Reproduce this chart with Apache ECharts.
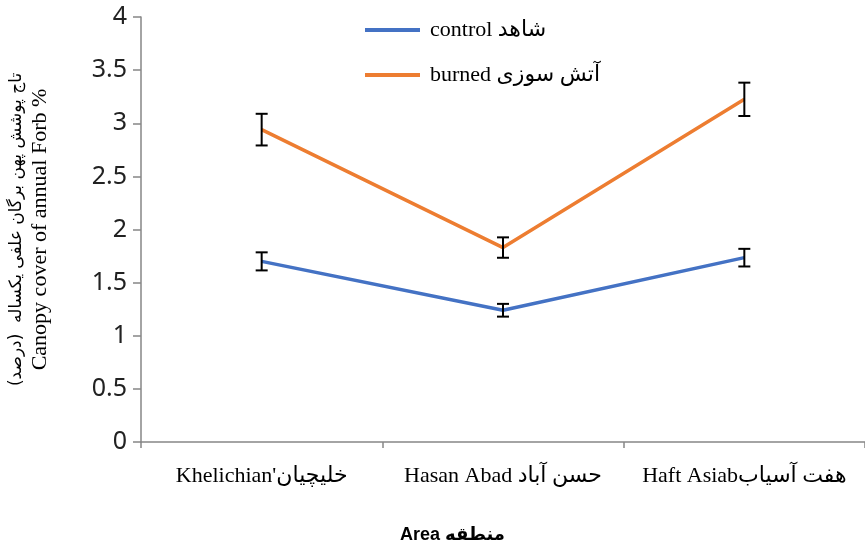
<!DOCTYPE html>
<html>
<head>
<meta charset="utf-8">
<script src="https://cdn.jsdelivr.net/npm/echarts@6/dist/echarts.min.js"></script>
<style>
html,body{margin:0;padding:0;background:#fff;}
#chart{width:865px;height:554px;}
</style>
</head>
<body>
<div id="chart"></div>
<script>
var categories = ["Khelichian'خلیچیان", "Hasan Abad حسن آباد", "Haft Asiabهفت آسیاب"];
var controlMean = [1.70, 1.24, 1.735];
var controlErr = [0.085, 0.06, 0.083];
var burnedMean = [2.94, 1.83, 3.225];
var burnedErr = [0.149, 0.096, 0.157];
var yTicks = [0, 0.5, 1, 1.5, 2, 2.5, 3, 3.5, 4];
var controlName = 'control شاهد';
var burnedName = 'burned آتش سوزی';
var xTitle = 'Area منطقه';

var serif = "'Liberation Serif', 'DejaVu Serif', 'DejaVu Sans', serif";

function errData(mean, err) {
  return mean.map(function (m, i) { return [i, m - err[i], m + err[i]]; });
}

function renderErr(params, api) {
  var x = api.value(0);
  var lo = api.coord([x, api.value(1)]);
  var hi = api.coord([x, api.value(2)]);
  var w = 6;
  var style = { stroke: '#000', lineWidth: 2 };
  return {
    type: 'group',
    children: [
      { type: 'line', shape: { x1: lo[0], y1: lo[1], x2: hi[0], y2: hi[1] }, style: style },
      { type: 'line', shape: { x1: lo[0] - w, y1: lo[1], x2: lo[0] + w, y2: lo[1] }, style: style },
      { type: 'line', shape: { x1: hi[0] - w, y1: hi[1], x2: hi[0] + w, y2: hi[1] }, style: style }
    ]
  };
}

var chart = echarts.init(document.getElementById('chart'), null, { renderer: 'canvas' });
chart.setOption({
  animation: false,
  backgroundColor: '#fff',
  grid: { left: 141, right: -5, top: 17, bottom: 112, containLabel: false },
  legend: {
    orient: 'vertical',
    left: 360,
    top: 13,
    itemGap: 21,
    itemWidth: 55,
    itemHeight: 4,
    data: [{ name: controlName, icon: 'rect' }, { name: burnedName, icon: 'rect' }],
    textStyle: { fontFamily: serif, fontSize: 22, color: '#000', lineHeight: 24, padding: [0, 0, 0, 5] }
  },
  graphic: [{
    type: 'text',
    left: 400,
    top: 526,
    style: { text: xTitle, font: "bold 18px 'Liberation Sans', 'DejaVu Sans', sans-serif", fill: '#000' }
  }],
  xAxis: {
    type: 'category',
    data: categories,
    boundaryGap: true,
    axisLine: { lineStyle: { color: '#868686', width: 1.5 } },
    axisTick: { show: true, interval: 0, length: 6, lineStyle: { color: '#868686', width: 1.5 } },
    axisLabel: { interval: 0, fontFamily: serif, fontSize: 22, color: '#000', margin: 23 }
  },
  yAxis: {
    type: 'value',
    min: yTicks[0],
    max: yTicks[yTicks.length - 1],
    interval: 0.5,
    splitLine: { show: false },
    axisLine: { show: true, lineStyle: { color: '#868686', width: 1.5 } },
    axisTick: { show: true, length: 8, lineStyle: { color: '#868686', width: 1.5 } },
    axisLabel: { fontFamily: "'Noto Sans', 'Open Sans', sans-serif", fontSize: 25, color: '#222', margin: 14 },
    name: '{p|تاج پوشش پهن برگان علفی یکساله  (درصد)}\n{e|Canopy cover of annual Forb %}',
    nameLocation: 'middle',
    nameGap: 89,
    nameTextStyle: {
      rich: {
        p: { fontFamily: "'DejaVu Sans', sans-serif", fontSize: 17, color: '#000', lineHeight: 22 },
        e: { fontFamily: serif, fontSize: 22, color: '#000', lineHeight: 24 }
      }
    }
  },
  series: [
    {
      name: controlName, type: 'line', data: controlMean, showSymbol: false, symbol: 'none',
      lineStyle: { color: '#4472C4', width: 3.5 }, itemStyle: { color: '#4472C4' }, z: 2
    },
    {
      name: burnedName, type: 'line', data: burnedMean, showSymbol: false, symbol: 'none',
      lineStyle: { color: '#ED7D31', width: 3.5 }, itemStyle: { color: '#ED7D31' }, z: 2
    },
    { type: 'custom', renderItem: renderErr, data: errData(controlMean, controlErr), z: 3, silent: true },
    { type: 'custom', renderItem: renderErr, data: errData(burnedMean, burnedErr), z: 3, silent: true }
  ]
});
</script>
</body>
</html>
